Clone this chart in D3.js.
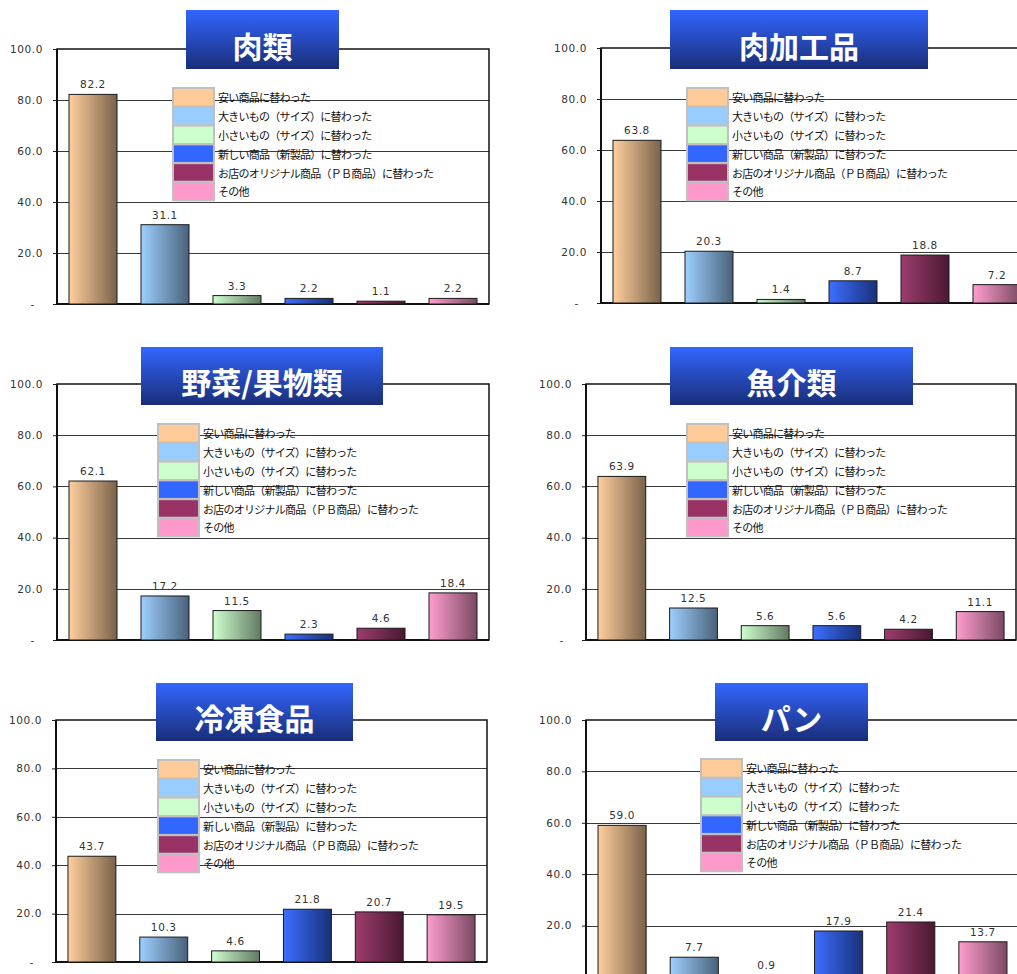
<!DOCTYPE html>
<html><head><meta charset="utf-8">
<script src="https://cdn.jsdelivr.net/npm/d3@7/dist/d3.min.js"></script>
<style>html,body{margin:0;padding:0;background:#fff;overflow:hidden}</style>
</head><body><svg id="c" width="1017" height="974"></svg>
<script>
// ---- data ----
const categories = ["安い商品に替わった","大きいもの（サイズ）に替わった","小さいもの（サイズ）に替わった","新しい商品（新製品）に替わった","お店のオリジナル商品（ＰＢ商品）に替わった","その他"];
const seriesColors = ["#FFCC99","#99CCFF","#CCFFCC","#3366FF","#993366","#FF99CC"];
const panelTitles = ["肉類","肉加工品","野菜/果物類","魚介類","冷凍食品","パン"];
const meatValues      = [82.2, 31.1, 3.3, 2.2, 1.1, 2.2];
const processedValues = [63.8, 20.3, 1.4, 8.7, 18.8, 7.2];
const vegFruitValues  = [62.1, 17.2, 11.5, 2.3, 4.6, 18.4];
const seafoodValues   = [63.9, 12.5, 5.6, 5.6, 4.2, 11.1];
const frozenValues    = [43.7, 10.3, 4.6, 21.8, 20.7, 19.5];
const breadValues     = [59.0, 7.7, 0.9, 17.9, 21.4, 13.7];
const yTickValues = [0, 20, 40, 60, 80, 100];
const yTickLabels = ["-", "20.0", "40.0", "60.0", "80.0", "100.0"];

const panelValues = [meatValues, processedValues, vegFruitValues, seafoodValues, frozenValues, breadValues];

// ---- layout ----
const W = 1017, H = 974;
const layout = [
  {left:57,  top:49,  width:432, height:255, tx:186, ty:10,  tw:153, th:59, lx:172, ly:87},
  {left:601, top:48,  width:432, height:255, tx:670, ty:10,  tw:258, th:59, lx:686, ly:87},
  {left:57,  top:384, width:432, height:256, tx:141, ty:347, tw:242, th:58, lx:157, ly:423},
  {left:586, top:384, width:430, height:256, tx:670, ty:347, tw:243, th:58, lx:686, ly:423},
  {left:56,  top:720, width:431, height:242, tx:156, ty:683, tw:197, th:58, lx:157, ly:759},
  {left:586, top:720, width:433, height:257, tx:715, ty:683, tw:153, th:58, lx:700, ly:758}
];

const svg = d3.select("#c");
const defs = svg.append("defs");

seriesColors.forEach((c, i) => {
  const g = defs.append("linearGradient").attr("id", "bar" + i)
    .attr("x1", 0).attr("x2", 1).attr("y1", 0).attr("y2", 0);
  g.append("stop").attr("offset", "0%").attr("stop-color", d3.interpolateRgb(c, "#fff")(0.05));
  g.append("stop").attr("offset", "100%").attr("stop-color", d3.interpolateRgb(c, "#000")(0.52));
});
const tg = defs.append("linearGradient").attr("id", "titleGrad")
  .attr("x1", 0).attr("x2", 0).attr("y1", 0).attr("y2", 1);
tg.append("stop").attr("offset", "0%").attr("stop-color", "#3366FF");
tg.append("stop").attr("offset", "100%").attr("stop-color", "#1A2E78");

const numFont = "'DejaVu Sans', Verdana, sans-serif";
const jpFont = "'Noto Sans CJK JP', 'Noto Sans', sans-serif";

layout.forEach((L, p) => {
  const values = panelValues[p];
  const g = svg.append("g");
  const x = d3.scaleBand().domain(categories).range([L.left, L.left + L.width])
    .paddingInner(1/3).paddingOuter(1/6);
  const y = d3.scaleLinear().domain([0, 100]).range([L.top + L.height, L.top]);

  // grid lines
  g.append("g").selectAll("line").data(yTickValues.slice(1, -1)).join("line")
    .attr("x1", L.left).attr("x2", L.left + L.width)
    .attr("y1", d => Math.round(y(d)) + 0.5).attr("y2", d => Math.round(y(d)) + 0.5)
    .attr("stroke", "#3a3a3a").attr("stroke-width", 1);

  // y axis via d3.axisLeft (only ticks that fall inside the page)
  const visibleTicks = yTickValues.filter(v => y(v) < H - 5);
  const axis = d3.axisLeft(y).tickValues(visibleTicks)
    .tickFormat(d => yTickLabels[yTickValues.indexOf(d)]).tickSize(4).tickPadding(10);
  const ag = g.append("g").attr("transform", `translate(${L.left},0)`).call(axis);
  ag.select(".domain").remove();
  ag.selectAll(".tick line").attr("stroke", "#222");
  ag.selectAll(".tick text").attr("font-family", numFont).attr("font-size", "10.5px")
    .attr("fill", "#333").attr("letter-spacing", "0.6px")
    .attr("dx", (d) => d === 0 ? -8 : 0);

  // frame
  g.append("rect").attr("x", L.left).attr("y", L.top).attr("width", L.width).attr("height", L.height)
    .attr("fill", "none").attr("stroke", "#111").attr("stroke-width", 1.5);
  g.append("line").attr("x1", L.left).attr("x2", L.left).attr("y1", L.top).attr("y2", L.top + L.height)
    .attr("stroke", "#111").attr("stroke-width", 2);
  g.append("line").attr("x1", L.left).attr("x2", L.left + L.width).attr("y1", L.top + L.height).attr("y2", L.top + L.height)
    .attr("stroke", "#111").attr("stroke-width", 2);

  // bars
  g.append("g").selectAll("rect").data(values).join("rect")
    .attr("x", (d, i) => x(categories[i]))
    .attr("y", d => y(d))
    .attr("width", x.bandwidth())
    .attr("height", d => y(0) - y(d))
    .attr("fill", (d, i) => `url(#bar${i})`)
    .attr("stroke", "#1a1a1a").attr("stroke-width", 1);

  // value labels
  g.append("g").selectAll("text").data(values).join("text")
    .attr("x", (d, i) => x(categories[i]) + x.bandwidth() / 2)
    .attr("y", d => y(d) - 6)
    .attr("text-anchor", "middle")
    .attr("font-family", numFont).attr("font-size", "10.5px").attr("letter-spacing", "0.6px")
    .attr("fill", "#333")
    .text(d => d.toFixed(1));

  // legend
  const itemH = 18.8;
  const lg = g.append("g");
  lg.append("rect").attr("x", L.lx).attr("y", L.ly).attr("width", 43).attr("height", itemH * 6 + 1.5)
    .attr("fill", "#C0C0C0");
  lg.selectAll("rect.sw").data(categories).join("rect").attr("class", "sw")
    .attr("x", L.lx + 2).attr("y", (d, i) => L.ly + 2 + i * itemH)
    .attr("width", 39).attr("height", itemH - 2.3)
    .attr("fill", (d, i) => seriesColors[i]);
  lg.selectAll("text").data(categories).join("text")
    .attr("x", L.lx + 46).attr("y", (d, i) => L.ly + 1 + i * itemH + itemH / 2)
    .attr("dominant-baseline", "central")
    .attr("font-family", jpFont).attr("font-size", "11px").attr("fill", "#111")
    .attr("letter-spacing", "-0.75px")
    .text(d => d);

  // title box
  g.append("rect").attr("x", L.tx).attr("y", L.ty).attr("width", L.tw).attr("height", L.th)
    .attr("fill", "url(#titleGrad)");
  g.append("text").attr("x", L.tx + L.tw / 2).attr("y", L.ty + L.th / 2 + 5)
    .attr("text-anchor", "middle").attr("dominant-baseline", "central")
    .attr("font-family", jpFont).attr("font-weight", "bold").attr("font-size", "30px")
    .attr("fill", "#fff")
    .text(panelTitles[p]);
});
</script></body></html>
